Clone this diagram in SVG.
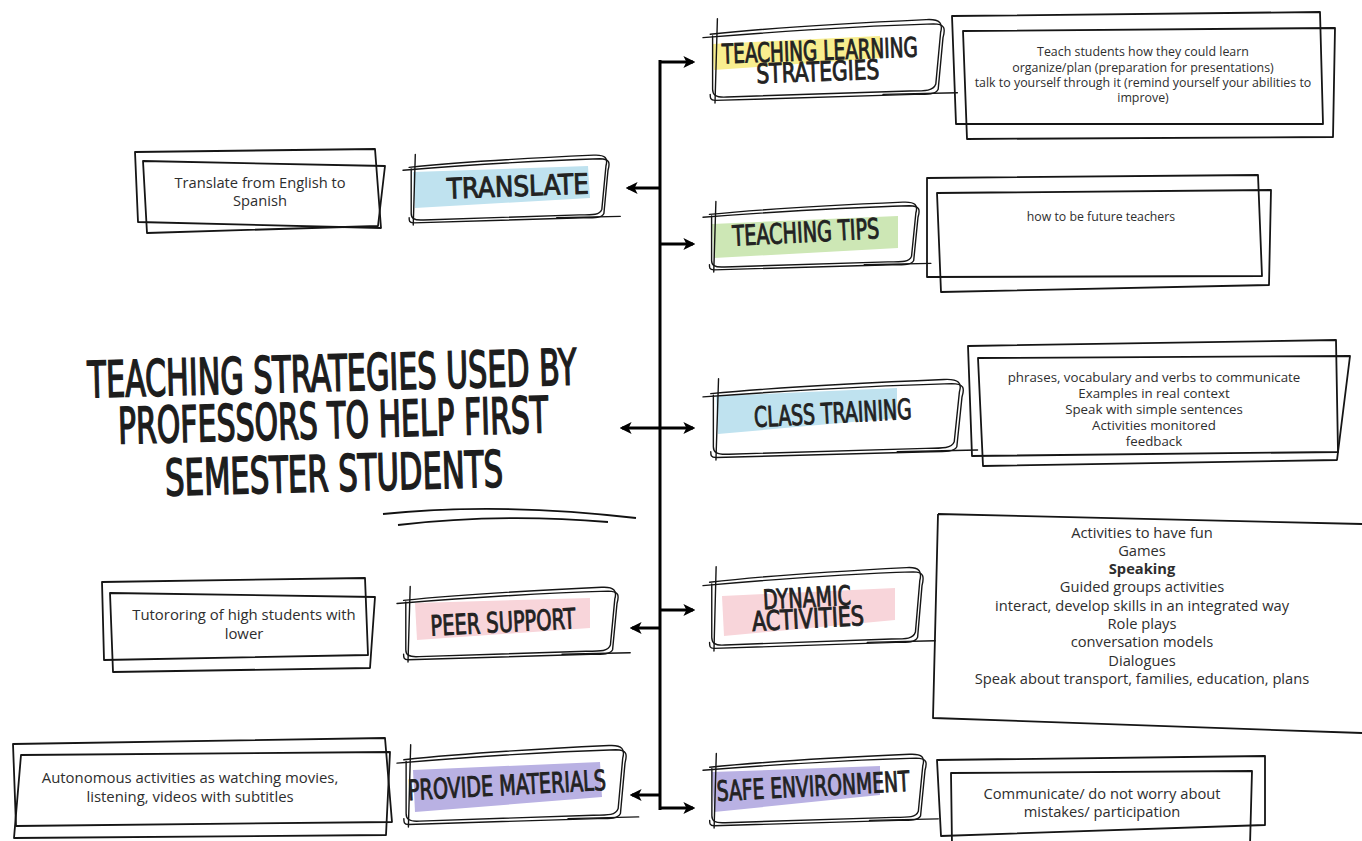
<svg xmlns="http://www.w3.org/2000/svg" xmlns:xlink="http://www.w3.org/1999/xlink" width="1362" height="841" viewBox="0 0 1362 841">
<style>
.sk{fill:none;stroke:#151515;stroke-width:1.4;stroke-linecap:round;stroke-linejoin:round;vector-effect:non-scaling-stroke}
.box{fill:none;stroke:#151515;stroke-width:1.8;stroke-linejoin:round}
.lbl{font-family:"DejaVu Sans Condensed","Liberation Sans Narrow","DejaVu Sans",sans-serif;font-weight:normal;fill:#222;stroke:#222;stroke-width:0.9;text-anchor:middle}
.ttl{font-family:"DejaVu Sans Condensed","Liberation Sans Narrow","DejaVu Sans",sans-serif;font-weight:normal;fill:#1d1d1d;stroke:#1d1d1d;stroke-width:1.6;text-anchor:middle;font-size:50px}
.txt{font-family:"Open Sans","Noto Sans",sans-serif;fill:#2e2e2e;text-anchor:middle}
.con{fill:none;stroke:#000;stroke-width:3}
</style>
<defs>
<symbol id="frame" viewBox="0 0 100 100" preserveAspectRatio="none" style="overflow:visible">
<path class="sk" d="M3,20 C30,12 70,6 93,3 C99,2 100,8 99,18 L97,78 C96,86 93,86 86,86 L10,93 C5,94 4,90 4,84 L4,22"/>
<path class="sk" d="M0,24 C35,16 72,10 96,8 C101,8 101,14 100,24 L98,84 C97,90 94,90 88,90 L5,97 C3,97 3,94 3,90"/>
<path class="sk" d="M6,2 L5,100"/>
<path class="sk" d="M75,90 L106,88"/>
</symbol>
<marker id="ah" viewBox="0 0 10 10" refX="8" refY="5" markerWidth="12" markerHeight="12" markerUnits="userSpaceOnUse" orient="auto">
<path d="M0,0 L10,5 L0,10 L2.5,5 z" fill="#000"/>
</marker>
</defs>

<g id="connectors">
<path class="con" d="M660,60 V810"/>
<path class="con" d="M660,62 H693" marker-end="url(#ah)"/>
<path class="con" d="M660,188 H628" marker-end="url(#ah)"/>
<path class="con" d="M660,244 H693" marker-end="url(#ah)"/>
<path class="con" d="M660,428 H622" marker-end="url(#ah)"/>
<path class="con" d="M660,428 H693" marker-end="url(#ah)"/>
<path class="con" d="M660,610 H693" marker-end="url(#ah)"/>
<path class="con" d="M660,628 H632" marker-end="url(#ah)"/>
<path class="con" d="M660,795 H632" marker-end="url(#ah)"/>
<path class="con" d="M660,808 H693" marker-end="url(#ah)"/>
</g>

<g id="title">
<text class="ttl" x="332" y="391" textLength="489" lengthAdjust="spacingAndGlyphs" transform="rotate(-1.5 332 375)">TEACHING STRATEGIES USED BY</text>
<text class="ttl" x="333" y="438" textLength="430" lengthAdjust="spacingAndGlyphs" transform="rotate(-1.5 333 420)">PROFESSORS TO HELP FIRST</text>
<text class="ttl" x="334" y="491" textLength="338" lengthAdjust="spacingAndGlyphs" transform="rotate(-1.5 334 472)">SEMESTER STUDENTS</text>
<path d="M383,514 Q500,502 636,518" fill="none" stroke="#111" stroke-width="1.8"/>
<path d="M398,525 Q500,513 608,522" fill="none" stroke="#111" stroke-width="1.8"/>
</g>

<g id="teaching-learning-strategies">
<polygon points="712,44 880,36 882,58 714,70" fill="#f8ee8f"/>
<use href="#frame" x="703" y="17" width="240" height="86"/>
<text class="lbl" x="820" y="60" font-size="27" textLength="196" lengthAdjust="spacingAndGlyphs" transform="rotate(-2 820 55)">TEACHING LEARNING</text>
<text class="lbl" x="818" y="81" font-size="27" textLength="123" lengthAdjust="spacingAndGlyphs" transform="rotate(-2 818 75)">STRATEGIES</text>
</g>
<g id="tls-desc" font-size="12.4">
<polygon class="box" points="952,16 1320,12 1323,124 956,124"/>
<polygon class="box" points="963,31 1335,28 1333,137 967,139"/>
<text class="txt" x="1143" y="56">Teach students how they could learn</text>
<text class="txt" x="1143" y="72">organize/plan (preparation for presentations)</text>
<text class="txt" x="1143" y="87">talk to yourself through it (remind yourself your abilities to</text>
<text class="txt" x="1143" y="102">improve)</text>
</g>

<g id="translate">
<polygon points="413,172 588,166 590,198 415,208" fill="#bfe2ef"/>
<use href="#frame" x="403" y="153" width="205" height="72"/>
<text class="lbl" x="518" y="196" font-size="28" textLength="142" lengthAdjust="spacingAndGlyphs" transform="rotate(-2 518 190)">TRANSLATE</text>
</g>
<g id="translate-desc" font-size="14.7">
<polygon class="box" points="135,152 375,149 381,228 138,222"/>
<polygon class="box" points="143,161 385,166 378,226 147,233"/>
<text class="txt" x="260" y="188">Translate from English to</text>
<text class="txt" x="260" y="206">Spanish</text>
</g>

<g id="teaching-tips">
<polygon points="712,224 898,216 898,248 714,258" fill="#cde7b5"/>
<use href="#frame" x="703" y="200" width="215" height="72"/>
<text class="lbl" x="806" y="242" font-size="28" textLength="147" lengthAdjust="spacingAndGlyphs" transform="rotate(-3 806 235)">TEACHING TIPS</text>
</g>
<g id="tips-desc" font-size="12.3">
<polygon class="box" points="927,178 1258,175 1262,276 927,277"/>
<polygon class="box" points="937,193 1271,190 1269,285 941,292"/>
<text class="txt" x="1101" y="221">how to be future teachers</text>
</g>

<g id="class-training">
<polygon points="716,396 897,388 897,418 718,434" fill="#bfe2ef"/>
<use href="#frame" x="703" y="377" width="259" height="83"/>
<text class="lbl" x="833" y="423" font-size="28" textLength="158" lengthAdjust="spacingAndGlyphs" transform="rotate(-3 833 416)">CLASS TRAINING</text>
</g>
<g id="class-desc" font-size="13.3">
<polygon class="box" points="968,346 1336,340 1338,452 972,456"/>
<polygon class="box" points="978,358 1350,356 1337,460 983,466"/>
<text class="txt" x="1154" y="382">phrases, vocabulary and verbs to communicate</text>
<text class="txt" x="1154" y="398">Examples in real context</text>
<text class="txt" x="1154" y="414">Speak with simple sentences</text>
<text class="txt" x="1154" y="430">Activities monitored</text>
<text class="txt" x="1154" y="446">feedback</text>
</g>

<g id="dynamic-activities">
<polygon points="722,596 895,588 895,620 724,636" fill="#f8d5da"/>
<use href="#frame" x="703" y="565" width="219" height="86"/>
<text class="lbl" x="807" y="607" font-size="27" textLength="88" lengthAdjust="spacingAndGlyphs" transform="rotate(-3 807 598)">DYNAMIC</text>
<text class="lbl" x="808" y="628" font-size="27" textLength="112" lengthAdjust="spacingAndGlyphs" transform="rotate(-3 808 618)">ACTIVITIES</text>
</g>
<g id="dynamic-desc" font-size="14.7">
<path class="box" d="M938,514 L1362,524 M1362,733 L933,718 L938,514"/>
<text class="txt" x="1142" y="538">Activities to have fun</text>
<text class="txt" x="1142" y="556">Games</text>
<text class="txt" x="1142" y="574" font-weight="bold">Speaking</text>
<text class="txt" x="1142" y="592">Guided groups activities</text>
<text class="txt" x="1142" y="611">interact, develop skills in an integrated way</text>
<text class="txt" x="1142" y="629">Role plays</text>
<text class="txt" x="1142" y="647">conversation models</text>
<text class="txt" x="1142" y="666">Dialogues</text>
<text class="txt" x="1142" y="684">Speak about transport, families, education, plans</text>
</g>

<g id="peer-support">
<polygon points="415,603 590,598 590,628 417,640" fill="#f8d5da"/>
<use href="#frame" x="397" y="585" width="220" height="77"/>
<text class="lbl" x="503" y="632" font-size="28" textLength="145" lengthAdjust="spacingAndGlyphs" transform="rotate(-3 503 624)">PEER SUPPORT</text>
</g>
<g id="peer-desc" font-size="14.9">
<polygon class="box" points="102,582 365,578 368,655 104,660"/>
<polygon class="box" points="110,593 375,597 370,668 113,672"/>
<text class="txt" x="244" y="620">Tutororing of high students with</text>
<text class="txt" x="244" y="639">lower</text>
</g>

<g id="provide-materials">
<polygon points="413,770 600,762 602,797 415,812" fill="#b9b1e3"/>
<use href="#frame" x="397" y="743" width="228" height="84"/>
<text class="lbl" x="507" y="795" font-size="28" textLength="198" lengthAdjust="spacingAndGlyphs" transform="rotate(-3 507 787)">PROVIDE MATERIALS</text>
</g>
<g id="materials-desc" font-size="14.9">
<polygon class="box" points="13,744 385,738 392,822 16,826"/>
<polygon class="box" points="21,755 390,752 386,835 14,838"/>
<text class="txt" x="190" y="783">Autonomous activities as watching movies,</text>
<text class="txt" x="190" y="802">listening, videos with subtitles</text>
</g>

<g id="safe-environment">
<polygon points="712,772 880,766 880,795 714,812" fill="#b9b1e3"/>
<use href="#frame" x="703" y="752" width="222" height="76"/>
<text class="lbl" x="813" y="796" font-size="28" textLength="193" lengthAdjust="spacingAndGlyphs" transform="rotate(-3 813 786)">SAFE ENVIRONMENT</text>
</g>
<g id="safe-desc" font-size="14.7">
<polygon class="box" points="937,760 1265,756 1265,825 941,836"/>
<polygon class="box" points="951,773 1252,771 1250,845 952,845"/>
<text class="txt" x="1102" y="799">Communicate/ do not worry about</text>
<text class="txt" x="1102" y="817">mistakes/ participation</text>
</g>
</svg>
